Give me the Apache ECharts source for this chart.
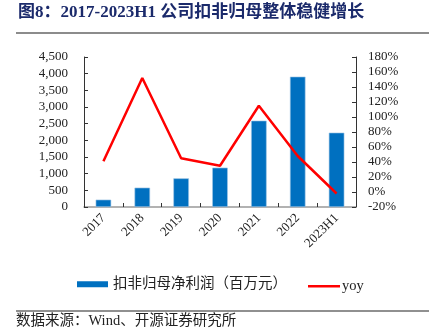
<!DOCTYPE html>
<html>
<head>
<meta charset="utf-8">
<script src="https://cdn.jsdelivr.net/npm/echarts@6/dist/echarts.min.js"></script>
<style>
  html, body { margin: 0; padding: 0; background: #fff; }
  #chart { width: 429px; height: 334px; }
</style>
</head>
<body>
<div id="chart"></div>
<script>
// 扣非归母净利润 (百万元) and its year-over-year growth
const categories = ['2017', '2018', '2019', '2020', '2021', '2022', '2023H1'];
const profitValues = [220, 580, 860, 1180, 2590, 3910, 2230];
const yoyValues = [41, 152, 45, 35, 115, 48, -2];
const leftTicks = { min: 0, max: 4500, interval: 500 };
const rightTicks = { min: -20, max: 180, interval: 20 };

const serif = '"Times New Roman", "Liberation Serif", "Noto Sans CJK SC", serif';
const cjk = '"Liberation Serif", "Noto Sans CJK SC", serif';

const chart = echarts.init(document.getElementById('chart'), null, { renderer: 'canvas' });

chart.setOption({
  animation: false,
  backgroundColor: '#ffffff',
  title: {
    text: '图8：2017-2023H1 公司扣非归母整体稳健增长',
    left: 18,
    top: 4,
    padding: 0,
    textStyle: { fontFamily: cjk, fontSize: 17, fontWeight: 'bold', color: '#1b2a6b' }
  },
  graphic: [
    { type: 'rect', shape: { x: 16, y: 32, width: 413, height: 2 }, style: { fill: '#8c8c8c' } },
    { type: 'rect', shape: { x: 16, y: 310.5, width: 413, height: 1 }, style: { fill: '#222' } },
    {
      type: 'text', left: 16, top: 314,
      style: { text: '数据来源：Wind、开源证券研究所', font: '14.5px ' + cjk, fill: '#222' }
    }
  ],
  legend: [
    {
      left: 77,
      top: 277,
      padding: 0,
      itemWidth: 31,
      itemHeight: 6,
      textStyle: { fontFamily: cjk, fontSize: 14.5, color: '#222' },
      itemStyle: { borderWidth: 0 },
      data: [{ name: '扣非归母净利润（百万元）', icon: 'rect' }]
    },
    {
      left: 308,
      top: 279,
      padding: 0,
      itemWidth: 32,
      itemHeight: 2.5,
      textStyle: { fontFamily: cjk, fontSize: 14.5, color: '#222', padding: [0, 0, 0, -3] },
      data: [{ name: 'yoy', icon: 'rect' }]
    }
  ],
  grid: { left: 84, right: 73, top: 57, bottom: 127, containLabel: false },
  xAxis: {
    type: 'category',
    data: categories,
    axisLine: { lineStyle: { color: '#999', width: 1.5 } },
    axisTick: { show: true, inside: true, length: 4, alignWithLabel: false, lineStyle: { color: '#333' } },
    axisLabel: { rotate: 45, margin: 9, fontFamily: serif, fontSize: 13, color: '#222', interval: 0 }
  },
  yAxis: [
    {
      type: 'value',
      min: leftTicks.min, max: leftTicks.max, interval: leftTicks.interval,
      axisLine: { show: true, lineStyle: { color: '#333' } },
      axisTick: { show: true, inside: true, length: 4, lineStyle: { color: '#333' } },
      splitLine: { show: false },
      axisLabel: {
        margin: 16, fontFamily: serif, fontSize: 13, color: '#222',
        formatter: v => v.toLocaleString('en-US')
      }
    },
    {
      type: 'value',
      min: rightTicks.min, max: rightTicks.max, interval: rightTicks.interval,
      axisLine: { show: true, lineStyle: { color: '#333' } },
      axisTick: { show: true, inside: true, length: 4, lineStyle: { color: '#333' } },
      splitLine: { show: false },
      axisLabel: { margin: 12, fontFamily: serif, fontSize: 13, color: '#222', formatter: '{value}%' }
    }
  ],
  series: [
    {
      name: '扣非归母净利润（百万元）',
      type: 'bar',
      yAxisIndex: 0,
      data: profitValues,
      barWidth: '40%',
      itemStyle: { color: '#0070c0', borderColor: '#9fc6e6', borderWidth: 0.6 }
    },
    {
      name: 'yoy',
      type: 'line',
      yAxisIndex: 1,
      data: yoyValues,
      symbol: 'none',
      lineStyle: { color: '#ff0000', width: 2.5 },
      itemStyle: { color: '#ff0000' },
      z: 3
    }
  ]
});
</script>
</body>
</html>
